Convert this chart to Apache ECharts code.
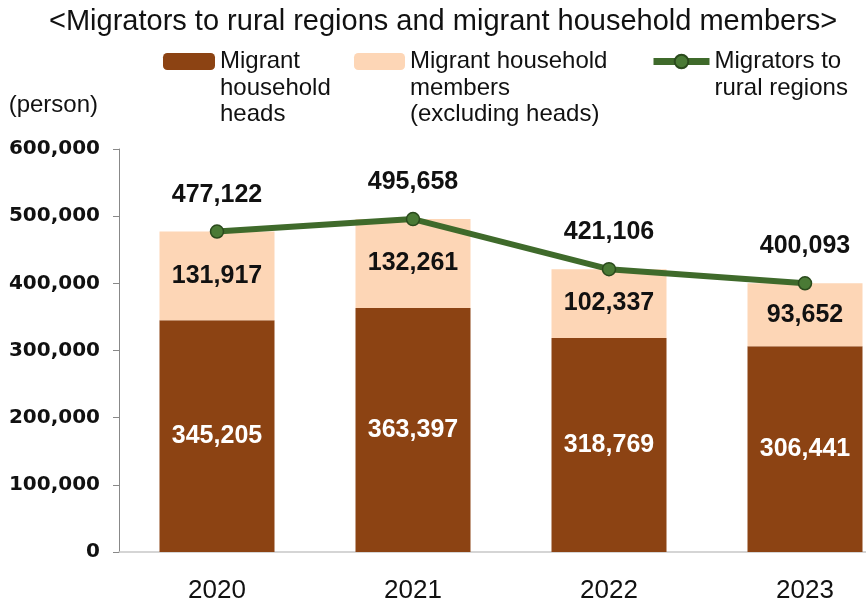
<!DOCTYPE html>
<html>
<head>
<meta charset="utf-8">
<script src="https://cdn.jsdelivr.net/npm/echarts@6/dist/echarts.min.js"></script>
<style>html,body{margin:0;padding:0;background:#fff;overflow:hidden;width:866px;height:607px;}#c{width:903px;height:607px;}</style>
</head>
<body>
<div id="c"></div>
<script>
const categories = ['2020', '2021', '2022', '2023'];
const heads = [345205, 363397, 318769, 306441];
const members = [131917, 132261, 102337, 93652];
const migrators = [477122, 495658, 421106, 400093];
const yTicks = [0, 100000, 200000, 300000, 400000, 500000, 600000];

const nameHeads = 'Migrant\nhousehold\nheads';
const nameMembers = 'Migrant household\nmembers\n(excluding heads)';
const nameMig = 'Migrators to\nrural regions';

const BROWN = '#8C4313';
const PEACH = '#FDD6B6';
const GREEN = '#3F6A2B';

const fmt = v => v.toLocaleString('en-US');
const LH = 26.5;
const FONT = 'Liberation Sans, Arial, sans-serif';
const legText = {
  fontFamily: FONT,
  fontSize: 24,
  color: '#111',
  lineHeight: LH
};
// prepend blank lines so the first text line sits level with the icon
const padLines = name => '\n'.repeat(name.split('\n').length - 1) + name;

const chart = echarts.init(document.getElementById('c'));
chart.setOption({
  animation: false,
  title: {
    text: '<Migrators to rural regions and migrant household members>',
    left: 44,
    top: 2,
    textStyle: { fontFamily: FONT, fontSize: 29, fontWeight: 'normal', color: '#111' }
  },
  legend: [
    { data: [nameHeads], formatter: padLines, left: 163, top: 53 - (LH * 5) / 2 + 8.5, padding: 0, itemWidth: 52, itemHeight: 17, textStyle: legText, selectedMode: false },
    { data: [nameMembers], formatter: padLines, left: 354, top: 53 - (LH * 5) / 2 + 8.5, padding: 0, itemWidth: 51, itemHeight: 17, textStyle: legText, selectedMode: false },
    { data: [nameMig], formatter: padLines, left: 650, top: 53 - (LH * 3) / 2 + 8.5, padding: 0, itemWidth: 56, itemHeight: 17, textStyle: legText, selectedMode: false,
      lineStyle: { width: 7, color: GREEN } }
  ],
  grid: { left: 119, right: 0, top: 149, bottom: 55, containLabel: false },
  xAxis: {
    type: 'category',
    data: categories,
    axisLine: { lineStyle: { color: '#c8c8c8', width: 1.5 } },
    axisTick: { show: false },
    axisLabel: { margin: 26, fontFamily: FONT, fontSize: 26, color: '#111' }
  },
  yAxis: {
    type: 'value',
    min: yTicks[0],
    max: yTicks[yTicks.length - 1],
    interval: 100000,
    name: '(person)',
    nameLocation: 'end',
    nameGap: 32,
    nameTextStyle: { align: 'right', padding: [0, 21, 0, 0], fontFamily: FONT, fontSize: 24, color: '#111' },
    splitLine: { show: false },
    axisLine: { show: true, lineStyle: { color: '#888', width: 1 } },
    axisTick: { show: true, length: 6, lineStyle: { color: '#888' } },
    axisLabel: { margin: 19, fontFamily: 'DejaVu Sans, sans-serif', fontWeight: 'bold', fontSize: 20, color: '#111', formatter: v => fmt(v) }
  },
  series: [
    {
      name: nameHeads, type: 'bar', stack: 'total', data: heads, barWidth: 115,
      itemStyle: { color: BROWN },
      label: { show: true, position: 'inside', color: '#fff', fontFamily: FONT, fontWeight: 'bold', fontSize: 25, formatter: p => fmt(p.value) }
    },
    {
      name: nameMembers, type: 'bar', stack: 'total', data: members, barWidth: 115,
      itemStyle: { color: PEACH },
      label: { show: true, position: 'inside', color: '#111', fontFamily: FONT, fontWeight: 'bold', fontSize: 25, formatter: p => fmt(p.value) }
    },
    {
      name: nameMig, type: 'line', data: migrators,
      lineStyle: { color: GREEN, width: 6 },
      itemStyle: { color: '#4A7A35', borderColor: '#2A4A1C', borderWidth: 1.5 },
      symbol: 'circle', symbolSize: 13,
      label: { show: true, position: 'top', distance: 17, color: '#111', fontFamily: FONT, fontWeight: 'bold', fontSize: 25, formatter: p => fmt(p.value) },
      z: 5
    }
  ]
});
</script>
</body>
</html>
